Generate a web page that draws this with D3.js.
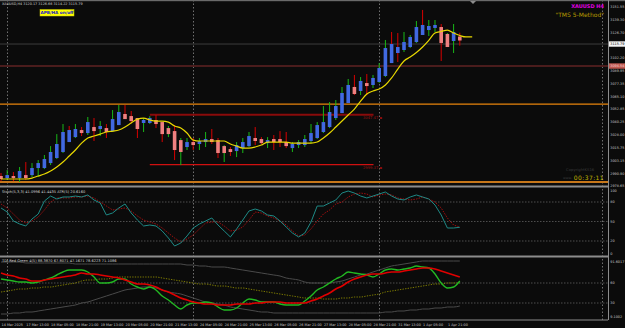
<!DOCTYPE html>
<html>
<head>
<meta charset="utf-8">
<script src="https://cdn.jsdelivr.net/npm/d3@7"></script>
<style>
  body { margin: 0; background: #0b0b0b; }
  svg { display: block; }
  text { font-family: "DejaVu Sans", sans-serif; }
</style>
</head>
<body>
<svg width="625" height="328"></svg>
<script>
// ---- data (H4 bars, 14 Mar 21:00 .. 2 Apr 05:00) ----
const barHigh = [2991.2, 2994.1, 2992.1, 2997.0, 3001.8, 3000.8, 3003.7, 3008.6, 3017.2, 3028.8,
  3038.5, 3036.6, 3038.5, 3035.6, 3045.3, 3044.3, 3041.4, 3038.5, 3052.0, 3056.9,
  3056.9, 3051.1, 3044.3, 3044.3, 3046.2, 3047.2, 3040.4, 3036.6, 3037.5, 3025.0,
  3025.0, 3025.0, 3025.0, 3030.8, 3033.7, 3025.0, 3018.2, 3016.3, 3021.1, 3025.0,
  3030.8, 3035.6, 3025.9, 3025.9, 3027.9, 3031.7, 3030.8, 3021.1, 3023.0, 3027.9,
  3038.5, 3040.4, 3055.9, 3059.8, 3061.7, 3074.3, 3082.0, 3085.9, 3083.9, 3086.8,
  3085.9, 3097.4, 3119.7, 3127.4, 3126.4, 3127.4, 3124.5, 3138.0, 3148.7, 3139.0,
  3139.0, 3135.1, 3126.4, 3135.1, 3126.66];
const barLow = [2983.4, 2984.4, 2983.4, 2982.5, 2984.4, 2987.3, 2987.3, 2995.0, 2998.9, 3004.7,
  3010.5, 3021.1, 3025.0, 3026.9, 3027.9, 3022.1, 3026.9, 3025.0, 3030.8, 3037.5,
  3044.3, 3039.5, 3025.0, 3030.8, 3038.5, 3034.6, 3021.1, 3025.9, 3003.7, 2998.9,
  3013.4, 3013.4, 3013.4, 3016.3, 3019.2, 3005.7, 3001.8, 3007.6, 3006.6, 3010.5,
  3016.3, 3018.2, 3019.2, 3015.3, 3013.4, 3016.3, 3015.3, 3011.5, 3015.3, 3016.3,
  3020.1, 3024.0, 3029.8, 3034.6, 3042.4, 3049.1, 3058.8, 3066.5, 3066.5, 3066.5,
  3073.3, 3078.1, 3083.9, 3097.4, 3098.4, 3108.1, 3111.9, 3116.8, 3124.5, 3123.5,
  3127.4, 3099.4, 3112.9, 3107.1, 3114.22];
// +1 up bar, -1 down bar
const barDir = [-1, 1, -1, 1, -1, 1, 1, 1, 1, 1,
  1, -1, 1, -1, 1, -1, 1, -1, 1, 1,
  -1, -1, -1, 1, 1, -1, -1, 1, -1, 1,
  1, -1, 1, 1, -1, -1, 1, -1, 1, 1,
  1, -1, -1, 1, -1, -1, -1, 1, 1, 1,
  1, 1, 1, 1, 1, 1, 1, -1, 1, -1,
  1, 1, 1, -1, -1, 1, 1, 1, -1, 1,
  1, -1, 1, 1, -1];
// Heiken Ashi bodies
const haOpen = [2988.3, 2986.3, 2988.3, 2986.3, 2989.2, 2989.2, 2996.0, 2996.0, 3000.8, 3005.7,
  3011.5, 3021.1, 3025.9, 3032.7, 3029.8, 3035.6, 3033.7, 3034.6, 3031.7, 3037.5,
  3048.2, 3046.2, 3044.3, 3039.5, 3039.5, 3042.4, 3040.4, 3034.6, 3031.7, 3023.0,
  3016.3, 3021.1, 3019.2, 3021.1, 3024.0, 3023.0, 3017.2, 3014.3, 3012.4, 3015.3,
  3017.2, 3025.0, 3024.0, 3020.1, 3024.0, 3024.0, 3021.1, 3015.3, 3018.2, 3018.2,
  3022.1, 3025.0, 3030.8, 3035.6, 3044.3, 3049.1, 3058.8, 3074.3, 3070.4, 3078.1,
  3076.2, 3079.1, 3084.9, 3097.4, 3107.1, 3110.0, 3112.9, 3117.7, 3124.5, 3129.3,
  3131.3, 3132.2, 3125.5, 3118.7, 3123.05];
const haClose = [2985.4, 2989.2, 2986.3, 2993.1, 2986.3, 2996.0, 3000.8, 3004.7, 3011.5, 3019.2,
  3030.8, 3032.7, 3033.7, 3029.8, 3040.4, 3031.7, 3036.6, 3030.8, 3043.3, 3050.1,
  3043.3, 3041.4, 3033.7, 3042.4, 3044.3, 3038.5, 3028.8, 3028.8, 3013.4, 3011.5,
  3021.1, 3018.2, 3022.1, 3024.0, 3021.1, 3010.5, 3010.5, 3011.5, 3018.2, 3021.1,
  3026.9, 3022.1, 3020.1, 3023.0, 3021.1, 3021.1, 3017.2, 3019.2, 3021.1, 3024.0,
  3029.8, 3037.5, 3040.4, 3050.1, 3055.9, 3068.5, 3076.2, 3067.5, 3080.1, 3075.2,
  3083.0, 3092.6, 3111.9, 3115.8, 3112.9, 3117.7, 3122.6, 3132.2, 3134.2, 3133.2,
  3134.2, 3116.8, 3112.9, 3127.4, 3119.2];
// yellow moving average (runs 2 bars past the last candle)
const maLine = [2985.4, 2985.4, 2985.4, 2985.4, 2985.4, 2986.3, 2988.3, 2990.2, 2993.1, 2997.0,
  3001.8, 3007.6, 3013.4, 3020.1, 3025.0, 3026.9, 3028.8, 3030.8, 3031.7, 3032.7,
  3035.6, 3039.5, 3043.3, 3044.3, 3042.4, 3041.4, 3041.4, 3040.4, 3036.6, 3034.6,
  3029.8, 3023.0, 3022.1, 3022.1, 3022.1, 3022.1, 3022.1, 3019.2, 3017.2, 3015.3,
  3015.3, 3016.3, 3018.2, 3021.1, 3021.1, 3021.1, 3021.1, 3020.1, 3020.1, 3020.1,
  3020.1, 3021.1, 3025.0, 3029.8, 3035.6, 3041.4, 3047.2, 3053.0, 3060.7, 3067.5,
  3070.4, 3072.3, 3076.2, 3083.0, 3091.6, 3099.4, 3103.2, 3107.6, 3112.9, 3119.3,
  3126.4, 3127.9, 3129.3, 3126.4, 3124.0, 3122.6, 3122.6];

const stochMain = [70.8, 64.6, 50.8, 46.2, 43.1, 53.8, 61.5, 81.5, 89.2, 84.6,
  87.7, 87.7, 89.2, 87.7, 90.8, 83.1, 78.5, 60.0, 63.1, 70.8,
  76.9, 63.1, 52.3, 43.1, 44.6, 43.1, 35.4, 24.6, 12.3, 16.9,
  27.7, 40.0, 46.2, 50.8, 55.4, 44.6, 35.4, 26.2, 38.5, 52.3,
  66.2, 69.2, 66.2, 60.0, 58.5, 50.8, 41.5, 32.3, 26.2, 32.3,
  49.2, 73.8, 73.8, 78.5, 83.1, 93.8, 96.9, 93.8, 89.2, 86.2,
  89.2, 92.3, 95.4, 89.2, 84.6, 83.1, 87.7, 90.8, 87.7, 84.6,
  75.4, 60.0, 40.0, 40.0, 41.1];
const stochSignal = [76.9, 70.8, 61.5, 52.3, 47.7, 50.8, 56.9, 67.7, 80.0, 86.2,
  86.2, 86.2, 87.7, 87.7, 89.2, 86.2, 80.0, 73.8, 67.7, 69.2,
  70.8, 66.2, 58.5, 52.3, 49.2, 46.2, 40.0, 32.3, 24.6, 18.5,
  23.1, 29.2, 38.5, 47.7, 49.2, 49.2, 43.1, 35.4, 36.9, 41.5,
  52.3, 64.6, 63.1, 58.5, 55.4, 50.8, 44.6, 35.4, 27.7, 29.2,
  38.5, 50.8, 61.5, 67.7, 76.9, 80.0, 87.7, 92.3, 93.8, 92.3,
  87.7, 90.8, 92.3, 90.8, 86.2, 84.6, 83.1, 84.6, 87.7, 84.6,
  80.0, 70.8, 55.4, 44.6, 41.4];

const tdiGreen = [66, 64.5, 63, 61.5, 61.5, 60, 61.5, 64.5, 67.5, 72,
  76.5, 79.5, 79.5, 79.5, 76.5, 69, 60, 60, 61.5, 66,
  66, 58.5, 54, 51, 54, 49.5, 40.5, 34.5, 27, 21,
  27, 30, 30, 31.5, 30, 24, 19.5, 19.5, 22.5, 30,
  36, 34.5, 31.5, 31.5, 31.5, 28.5, 27, 27, 27, 33,
  40.5, 49.5, 54, 60, 66, 70.5, 76.5, 75, 73.5, 72,
  69, 73.5, 79.5, 81, 79.5, 81, 82.5, 85.5, 84, 82.5,
  73.5, 60, 52.5, 54, 63];
const tdiRed = [75, 72, 70.5, 67.5, 66, 63, 63, 64.5, 66, 67.5,
  69, 70.5, 72, 75, 73.5, 73.5, 72, 70.5, 69, 67.5,
  64.5, 61.5, 58.5, 58.5, 57, 54, 49.5, 46.5, 42, 37.5,
  34.5, 31.5, 30, 28.5, 28.5, 27, 27, 27, 28.5, 28.5,
  28.5, 30, 30, 31.5, 31.5, 31.5, 30, 30, 30, 30,
  33, 36, 40.5, 45, 51, 55.5, 61.5, 66, 69, 72,
  73.5, 73.5, 75, 76.5, 76.5, 78, 79.5, 81, 82.5, 82.5,
  81, 78, 75, 72, 69];
const tdiBase = [46.5, 48, 49.5, 51, 51, 52.5, 52.5, 54, 54, 55.5,
  57, 58.5, 60, 63, 64.5, 64.5, 66, 66, 67.5, 69,
  69, 69, 69, 69, 69, 69, 67.5, 66, 64.5, 63,
  61.5, 60, 58.5, 58.5, 57, 55.5, 55.5, 54, 52.5, 52.5,
  51, 49.5, 48, 46.5, 45, 43.5, 42, 40.5, 39, 37.5,
  37.5, 37.5, 36, 36, 36, 37.5, 37.5, 39, 39, 40.5,
  42, 43.5, 46.5, 48, 49.5, 51, 52.5, 54, 55.5, 57,
  58.5, 58.5, 60, 60, 60];
const tdiUpper = [91.5, 91.5, 91.5, 91.5, 90, 90, 90, 90, 90, 90,
  90, 90, 88.5, 88.5, 88.5, 88.5, 88.5, 88.5, 88.5, 88.5,
  88.5, 88.5, 88.5, 88.5, 88.5, 88.5, 88.5, 88.5, 88.5, 88.5,
  87, 87, 85.5, 85.5, 84, 84, 84, 82.5, 81, 79.5,
  78, 76.5, 75, 73.5, 72, 70.5, 67.5, 66, 64.5, 61.5,
  60, 60, 60, 60, 61.5, 63, 66, 69, 72, 73.5,
  76.5, 79.5, 82.5, 85.5, 87, 88.5, 90, 91.5, 93, 93,
  93, 93, 93, 93, 93];
const tdiLower = [13.5, 13.5, 15, 15, 16.5, 16.5, 18, 19.5, 21, 22.5,
  24, 25.5, 27, 30, 31.5, 34.5, 37.5, 40.5, 43.5, 46.5,
  49.5, 51, 52.5, 54, 54, 52.5, 49.5, 46.5, 45, 43.5,
  40.5, 37.5, 34.5, 31.5, 30, 28.5, 27, 24, 22.5, 21,
  19.5, 18, 16.5, 16.5, 15, 15, 15, 15, 15, 15,
  15, 15, 15, 15, 15, 15, 15, 15, 15, 15,
  15, 15, 16.5, 16.5, 18, 18, 19.5, 19.5, 21, 21,
  22.5, 22.5, 24, 24, 25.5];

const priceTicks = [2978.65, 2990.90, 3003.15, 3015.75, 3028.00, 3040.25, 3052.85, 3065.10,
  3077.35, 3089.95, 3102.20, 3126.70, 3139.30, 3151.55];
const stochTicks = [100, 80, 50, 20, 0];
const stochLevels = [80, 50, 20];
const tdiTicks = ["91.6017", "60", "30", "9.1002"];
const tdiTickVals = [91.6017, 60, 30, 9.1002];
const tdiLevels = [60, 30];
const timeTicks = ["14 Mar 2025", "17 Mar 13:00", "18 Mar 05:00", "18 Mar 21:00", "19 Mar 13:00",
  "20 Mar 05:00", "20 Mar 21:00", "21 Mar 13:00", "24 Mar 05:00", "24 Mar 21:00", "25 Mar 13:00",
  "26 Mar 05:00", "26 Mar 21:00", "27 Mar 13:00", "28 Mar 05:00", "28 Mar 21:00", "31 Mar 13:00",
  "1 Apr 05:00", "1 Apr 21:00"];
const weekStarts = [1, 31, 61];
const bidPrice = 3115.79, redLevel = 3094.54;
const orangeLevels = [3057.8, 2982.5];
const zoneTop = 3047.47, zoneBottom = 2999.37, zoneFrom = 24, zoneTo = 60;

// ---- drawing ----
const svg = d3.select('svg');
const right = 608;
svg.append('rect').attr('width', 625).attr('height', 328).attr('fill', '#0b0b0b');

let x = d3.scaleLinear().domain([0, 74]).range([1, 459.8]);
let y = d3.scaleLinear().domain([2978.65, 3151.55]).range([186, 7]);
let yS = d3.scaleLinear().domain([0, 100]).range([254, 189]);
let yT = d3.scaleLinear().domain([30, 60]).range([303, 283]);

// weekly separators + right dotted line
svg.selectAll('.sep')
    .data(weekStarts.map(d => x(d)).concat([602]))
    .enter().append('line')
    .attr('x1', d => Math.round(d) + 0.5).attr('x2', d => Math.round(d) + 0.5)
    .attr('y1', 0).attr('y2', 320)
    .attr('stroke', '#8a8a8a').attr('stroke-width', 0.8)
    .attr('stroke-dasharray', '1.5,2');

// horizontal levels in main window
svg.append('line').attr('x1', 0).attr('x2', right).attr('y1', y(bidPrice)).attr('y2', y(bidPrice))
    .attr('stroke', '#3c3c3c').attr('stroke-width', 1);
svg.append('line').attr('x1', 0).attr('x2', right).attr('y1', y(redLevel)).attr('y2', y(redLevel))
    .attr('stroke', '#4a1c1c').attr('stroke-width', 2);
orangeLevels.forEach((p, i) => {
  svg.append('line').attr('x1', 0).attr('x2', right).attr('y1', y(p)).attr('y2', y(p))
      .attr('stroke', i == 0 ? '#e8850c' : '#c7771a').attr('stroke-width', i == 0 ? 1.3 : 1.8);
});
svg.append('line').attr('x1', x(zoneFrom)).attr('x2', x(zoneTo) + 0.5)
    .attr('y1', y(zoneTop)).attr('y2', y(zoneTop))
    .attr('stroke', '#8a0b0b').attr('stroke-width', 1.8);
svg.append('line').attr('x1', x(zoneFrom)).attr('x2', x(zoneTo) + 0.5)
    .attr('y1', y(zoneBottom)).attr('y2', y(zoneBottom))
    .attr('stroke', '#d01010').attr('stroke-width', 1.3);
svg.selectAll('.zl').data([zoneTop, zoneBottom]).enter().append('text')
    .attr('x', x(zoneTo) - 10).attr('y', d => y(d) + 4.5)
    .attr('font-size', '3.7px').attr('fill', '#a01010')
    .text(d => d.toFixed(2) + ' \u25aa');

// candles
const idx = d3.range(barHigh.length);
const bull = '#4169e1', bear = '#f08080';
let candles = svg.append('g');
candles.selectAll('.wick')
    .data(idx).enter().append('line')
    .attr('x1', i => x(i)).attr('x2', i => x(i))
    .attr('y1', i => y(barHigh[i])).attr('y2', i => y(barLow[i]))
    .attr('stroke', i => barDir[i] > 0 ? '#18b818' : '#d80000')
    .attr('stroke-width', 1);
candles.selectAll('.body')
    .data(idx).enter().append('rect')
    .attr('x', i => x(i) - 1.8).attr('width', 3.6)
    .attr('y', i => y(Math.max(haOpen[i], haClose[i])))
    .attr('height', i => Math.max(1, Math.abs(y(haOpen[i]) - y(haClose[i]))))
    .attr('fill', i => haClose[i] >= haOpen[i] ? bull : bear);

// moving average
svg.append('path')
    .datum(maLine)
    .attr('d', d3.line().x((d, i) => x(i)).y(d => y(d)).curve(d3.curveMonotoneX))
    .attr('fill', 'none').attr('stroke', '#e8d800').attr('stroke-width', 1.2);

// panel borders
svg.append('rect').attr('x', 0).attr('y', 0).attr('width', 625).attr('height', 1.2).attr('fill', '#6a6a6a');
[186.5, 256.5].forEach(v => {
  svg.append('rect').attr('x', 0).attr('y', v - 1).attr('width', right).attr('height', 2).attr('fill', '#8c8c8c');
});
svg.append('line').attr('x1', 0).attr('x2', right).attr('y1', 320).attr('y2', 320)
    .attr('stroke', '#8c8c8c').attr('stroke-width', 1);
svg.append('line').attr('x1', right + 0.5).attr('x2', right + 0.5).attr('y1', 0).attr('y2', 320)
    .attr('stroke', '#8c8c8c').attr('stroke-width', 1);
svg.append('path').attr('d', 'M470,1 L476,1 L473,4 Z').attr('fill', '#8c8c8c');

// price axis
const axFont = '3.4px';
svg.selectAll('.ptick').data(priceTicks).enter().append('text')
    .attr('x', 610.3).attr('y', d => y(d) + 1.2)
    .attr('font-size', axFont).attr('fill', '#c8c8c8')
    .text(d => d.toFixed(2));
svg.append('rect').attr('x', 609).attr('y', y(bidPrice) - 2.7).attr('width', 16).attr('height', 5.4).attr('fill', '#f4f4f4');
svg.append('text').attr('x', 610.3).attr('y', y(bidPrice) + 1.2).attr('font-size', axFont).attr('fill', '#000')
    .text(bidPrice.toFixed(2));
svg.append('rect').attr('x', 609).attr('y', y(redLevel) - 2.7).attr('width', 16).attr('height', 5.4).attr('fill', '#c05a52');
svg.append('text').attr('x', 610.3).attr('y', y(redLevel) + 1.2).attr('font-size', axFont).attr('fill', '#f0d0d0')
    .text(redLevel.toFixed(2));

// main window labels
svg.append('text').attr('x', 2).attr('y', 5.3).attr('font-size', '3.4px').attr('fill', '#d0d0d0')
    .text('XAUUSD,H4  3120.17 3126.66 3114.22 3115.79');
svg.append('rect').attr('x', 40).attr('y', 9.5).attr('width', 34).attr('height', 6.5)
    .attr('fill', '#ffff00').attr('stroke', '#c8c800').attr('stroke-width', 0.5);
svg.append('text').attr('x', 57).attr('y', 14.2).attr('text-anchor', 'middle')
    .attr('font-size', '4.2px').attr('font-weight', 'bold').attr('fill', '#1818c8')
    .text('APB/HA on/off');
svg.append('text').attr('x', 604).attr('y', 8).attr('text-anchor', 'end')
    .attr('font-size', '5px').attr('font-weight', 'bold').attr('fill', '#e000e0')
    .text('XAUUSD H4');
svg.append('text').attr('x', 604).attr('y', 16.5).attr('text-anchor', 'end')
    .attr('font-size', '6px').attr('fill', '#b89c00')
    .text('"TMS 5-Method"');
svg.append('text').attr('x', 566).attr('y', 171).attr('font-size', '3.8px').attr('fill', '#3a3a3a')
    .text('CopyrightKS16');
svg.append('text').attr('x', 563).attr('y', 178.5).attr('font-size', '3.4px').attr('fill', '#3a3a3a')
    .text('www.');
svg.append('text').attr('x', 604).attr('y', 180).attr('text-anchor', 'end')
    .attr('font-size', '6px').attr('fill', '#c2b400').attr('letter-spacing', '0.4px')
    .text('00:37:11');

// stochastic window
svg.selectAll('.slev').data(stochLevels).enter().append('line')
    .attr('x1', 0).attr('x2', right).attr('y1', d => yS(d)).attr('y2', d => yS(d))
    .attr('stroke', '#6a6a6a').attr('stroke-width', 0.7).attr('stroke-dasharray', '1.5,1.5');
svg.append('path').datum(stochSignal)
    .attr('d', d3.line().x((d, i) => x(i)).y(d => yS(d)))
    .attr('fill', 'none').attr('stroke', '#b01010').attr('stroke-width', 0.9).attr('stroke-dasharray', '1.5,1.2');
svg.append('path').datum(stochMain)
    .attr('d', d3.line().x((d, i) => x(i)).y(d => yS(d)))
    .attr('fill', 'none').attr('stroke', '#1e8a86').attr('stroke-width', 1);
svg.selectAll('.stick').data(stochTicks).enter().append('text')
    .attr('x', 610.3).attr('y', d => Math.min(Math.max(yS(d) + 1.2, 191.5), 255.5))
    .attr('font-size', axFont).attr('fill', '#c8c8c8').text(d => d);
svg.append('text').attr('x', 2).attr('y', 193).attr('font-size', '3.6px').attr('fill', '#d0d0d0')
    .text('Stoch(5,3,3) 41.0996 41.4435   ATR(5) 20.6160');

// TDI window
svg.selectAll('.tlev').data(tdiLevels).enter().append('line')
    .attr('x1', 0).attr('x2', right).attr('y1', d => yT(d)).attr('y2', d => yT(d))
    .attr('stroke', '#6a6a6a').attr('stroke-width', 0.7).attr('stroke-dasharray', '1.5,1.5');
let tline = d3.line().x((d, i) => x(i)).y(d => yT(d)).curve(d3.curveMonotoneX);
[tdiUpper, tdiLower].forEach(s => {
  svg.append('path').datum(s).attr('d', tline)
      .attr('fill', 'none').attr('stroke', '#4a4a4a').attr('stroke-width', 1);
});
svg.append('path').datum(tdiBase).attr('d', tline)
    .attr('fill', 'none').attr('stroke', '#8c8a00').attr('stroke-width', 0.9).attr('stroke-dasharray', '1.3,1.3');
svg.append('path').datum(tdiGreen).attr('d', tline)
    .attr('fill', 'none').attr('stroke', '#22b822').attr('stroke-width', 1.4);
svg.append('path').datum(tdiRed).attr('d', tline)
    .attr('fill', 'none').attr('stroke', '#e00000').attr('stroke-width', 1.6);
svg.selectAll('.ttick').data(tdiTickVals).enter().append('text')
    .attr('x', 610.3).attr('y', d => yT(d) + 1.2)
    .attr('font-size', axFont).attr('fill', '#c8c8c8').text((d, i) => tdiTicks[i]);
svg.append('text').attr('x', 2).attr('y', 262.3).attr('font-size', '3.6px').attr('fill', '#d0d0d0')
    .text('TDI Red Green 4(5) 88.3870 67.8071 47.1671 78.6223 71.1086');

// time axis
svg.selectAll('.xt').data(timeTicks).enter().append('text')
    .attr('x', (d, i) => x(i * 4) + 0.5).attr('y', 325.5)
    .attr('font-size', '3.4px').attr('fill', '#c8c8c8').text(d => d);
</script>
</body>
</html>
